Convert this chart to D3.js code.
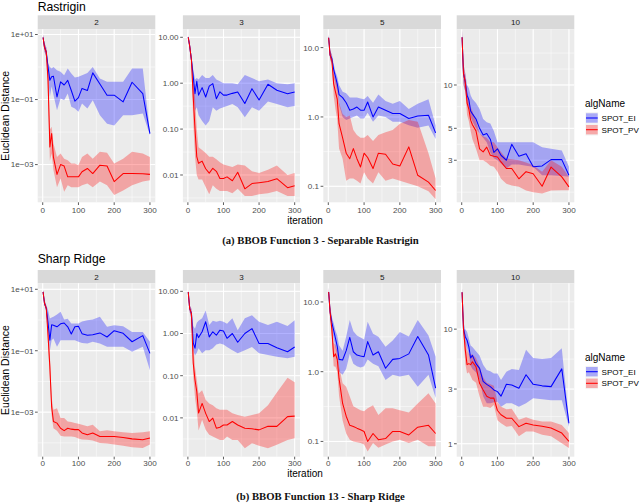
<!DOCTYPE html>
<html><head><meta charset="utf-8">
<script src="https://cdn.jsdelivr.net/npm/d3@7"></script>
<style>body{margin:0;background:#fff}svg{display:block}</style>
</head><body>
<svg id="c" width="640" height="503"></svg>
<script>
// ---------- DATA ----------
const iterations = [1, 5, 10, 15, 20, 25, 30, 40, 50, 60, 70, 80, 90, 100, 110, 125, 140, 160, 180, 200, 225, 250, 280, 300];
const dims = ["2", "3", "5", "10"];
const algNames = ["SPOT_EI", "SPOT_PV"];

// Rastrigin (BBOB f3)
const rast2_EI    = [8.1, 4.2, 2.9, 1.0, 0.39, 0.50, 0.52, 0.12, 0.35, 0.28, 0.39, 0.19, 0.089, 0.115, 0.22, 0.19, 0.66, 0.30, 0.136, 0.136, 0.085, 0.34, 0.153, 0.009];
const rast2_EI_lo = [6.5, 3.0, 2.0, 0.5, 0.12, 0.25, 0.14, 0.047, 0.107, 0.095, 0.153, 0.06, 0.053, 0.042, 0.076, 0.053, 0.095, 0.033, 0.018, 0.016, 0.033, 0.033, 0.037, 0.008];
const rast2_EI_hi = [10, 5.5, 4.0, 1.28, 1.0, 0.9, 1.0, 0.8, 0.71, 0.56, 0.9, 0.63, 0.475, 0.50, 0.56, 0.66, 1.0, 0.44, 0.35, 0.35, 0.35, 0.90, 0.90, 0.010];
const rast2_PV    = [8.1, 4.0, 2.9, 0.39, 0.0035, 0.009, 0.0017, 0.0005, 0.001, 0.0009, 0.00042, 0.00042, 0.00042, 0.00042, 0.0006, 0.00076, 0.00053, 0.00096, 0.00091, 0.0003, 0.00053, 0.00053, 0.00052, 0.0005];
const rast2_PV_lo = [6.5, 3.0, 2.0, 0.1, 0.0013, 0.0022, 0.00068, 0.0002, 0.00037, 0.000145, 0.00023, 0.0002, 0.0002, 0.0002, 0.00023, 0.00026, 0.0002, 0.0003, 0.00023, 0.000115, 0.00016, 0.00023, 0.0003, 0.00033];
const rast2_PV_hi = [10, 5.5, 4.0, 1.0, 0.012, 0.0145, 0.0045, 0.0017, 0.0022, 0.0015, 0.00135, 0.00107, 0.00107, 0.00096, 0.0017, 0.0022, 0.0015, 0.00246, 0.0023, 0.00107, 0.0015, 0.00246, 0.0022, 0.0017];

const rast3_EI    = [10, 6.5, 3.2, 1.4, 0.59, 1.1, 0.55, 0.8, 0.5, 0.86, 0.98, 0.46, 0.65, 0.55, 0.55, 0.6, 0.645, 0.36, 0.76, 0.43, 0.95, 0.7, 0.59, 0.645];
const rast3_EI_lo = [9, 5.5, 2.6, 0.6, 0.25, 0.3, 0.2, 0.15, 0.12, 0.15, 0.3, 0.25, 0.28, 0.3, 0.32, 0.35, 0.3, 0.18, 0.3, 0.25, 0.4, 0.35, 0.3, 0.32];
const rast3_EI_hi = [11, 7.5, 4.0, 2.0, 1.2, 1.3, 1.2, 1.5, 1.3, 1.3, 1.5, 1.2, 1.1, 1.0, 1.0, 1.0, 0.95, 1.5, 1.3, 1.1, 1.2, 1.0, 0.95, 1.0];
const rast3_PV    = [10, 6.5, 3.2, 0.5, 0.1, 0.025, 0.018, 0.02, 0.0137, 0.011, 0.014, 0.012, 0.0084, 0.0084, 0.0091, 0.0075, 0.0115, 0.005, 0.0065, 0.0068, 0.0072, 0.0083, 0.0053, 0.0058];
const rast3_PV_lo = [9, 5.5, 2.6, 0.15, 0.025, 0.01, 0.008, 0.008, 0.0055, 0.0038, 0.006, 0.005, 0.0045, 0.0045, 0.0045, 0.004, 0.005, 0.0035, 0.0035, 0.0038, 0.004, 0.0045, 0.0035, 0.0035];
const rast3_PV_hi = [11, 7.5, 4.0, 1.5, 0.5, 0.1, 0.04, 0.035, 0.03, 0.025, 0.025, 0.022, 0.019, 0.017, 0.016, 0.015, 0.017, 0.016, 0.012, 0.011, 0.013, 0.016, 0.01, 0.011];

const rast5_EI    = [13.9, 7.8, 6.9, 4.8, 3.8, 3.0, 2.1, 1.9, 1.6, 1.25, 1.3, 1.39, 1.25, 1.25, 1.64, 1.0, 1.39, 1.25, 1.12, 1.12, 0.95, 1.03, 1.06, 0.59];
const rast5_EI_lo = [12.5, 6.8, 6.0, 4.0, 3.0, 2.4, 1.5, 1.0, 0.9, 0.95, 1.0, 1.05, 0.95, 0.95, 1.15, 0.85, 1.05, 1.0, 0.85, 0.85, 0.76, 0.7, 0.75, 0.48];
const rast5_EI_hi = [15.5, 9.0, 8.0, 5.8, 4.5, 3.8, 2.9, 2.3, 2.2, 1.9, 1.9, 1.9, 1.85, 1.8, 2.0, 1.6, 2.1, 1.7, 1.55, 1.7, 1.3, 1.55, 1.8, 0.75];
const rast5_PV    = [13.9, 7.8, 6.5, 3.0, 2.3, 1.8, 0.8, 0.5, 0.3, 0.25, 0.35, 0.25, 0.19, 0.3, 0.26, 0.18, 0.3, 0.29, 0.21, 0.196, 0.37, 0.144, 0.115, 0.087];
const rast5_PV_lo = [12.5, 6.8, 5.5, 2.0, 1.3, 0.9, 0.35, 0.25, 0.12, 0.13, 0.13, 0.12, 0.11, 0.16, 0.13, 0.11, 0.16, 0.12, 0.13, 0.12, 0.11, 0.1, 0.085, 0.065];
const rast5_PV_hi = [15.5, 9.0, 7.8, 4.2, 3.5, 3.0, 1.6, 1.1, 1.0, 1.05, 0.65, 0.55, 0.5, 0.5, 0.55, 0.45, 0.55, 0.6, 0.65, 0.8, 0.9, 0.85, 0.3, 0.13];

const rast10_EI    = [21.5, 12, 10.5, 8.5, 7.9, 6.6, 6.3, 5.8, 5.0, 4.5, 4.6, 4.2, 3.4, 3.6, 3.25, 3.0, 3.87, 3.2, 3.33, 2.7, 2.74, 3.03, 3.03, 2.36];
const rast10_EI_lo = [19, 10, 9, 7.5, 7.0, 6.0, 5.6, 5.0, 4.6, 4.3, 4.0, 3.4, 3.1, 3.0, 2.85, 2.63, 2.8, 2.8, 2.75, 2.7, 2.36, 2.36, 2.33, 2.3];
const rast10_EI_hi = [24, 14, 12, 10, 9.5, 8.5, 8.0, 7.5, 6.8, 5.8, 5.5, 5.4, 4.8, 4.0, 4.0, 4.0, 4.0, 4.0, 4.0, 4.0, 3.7, 3.6, 3.5, 2.7];
const rast10_PV    = [21.5, 12, 10.5, 7.5, 6.8, 5.7, 5.3, 4.8, 3.6, 3.43, 3.7, 3.25, 3.2, 3.16, 2.92, 2.63, 2.63, 2.23, 2.5, 2.42, 1.98, 2.69, 2.3, 1.96];
const rast10_PV_lo = [19, 10, 9, 6.2, 5.6, 4.8, 4.2, 3.6, 3.0, 3.0, 2.9, 2.75, 2.7, 2.5, 2.23, 2.06, 2.0, 1.96, 1.85, 1.8, 1.76, 1.85, 1.86, 1.86];
const rast10_PV_hi = [24, 14, 12, 8.8, 8.0, 7.0, 6.6, 5.6, 4.6, 4.4, 4.3, 4.0, 4.0, 3.7, 3.43, 3.08, 3.05, 3.0, 2.9, 2.77, 2.5, 3.0, 2.7, 2.3];

// Sharp Ridge (BBOB f13)
const sharp2_EI    = [8.2, 3.5, 2.4, 0.8, 0.22, 0.7, 0.68, 0.6, 0.75, 0.8, 0.6, 0.35, 0.6, 0.63, 0.36, 0.32, 0.33, 0.38, 0.28, 0.45, 0.37, 0.196, 0.31, 0.082];
const sharp2_EI_lo = [7, 3.0, 2.0, 0.55, 0.1, 0.22, 0.25, 0.134, 0.22, 0.22, 0.22, 0.22, 0.22, 0.196, 0.18, 0.173, 0.196, 0.173, 0.134, 0.134, 0.134, 0.093, 0.134, 0.023];
const sharp2_EI_hi = [9.5, 4.5, 3.0, 2.1, 1.12, 1.2, 1.27, 1.5, 1.84, 1.04, 1.1, 0.77, 0.77, 0.77, 0.9, 0.99, 1.04, 1.27, 0.6, 0.68, 0.63, 0.41, 0.41, 0.196];
const sharp2_PV    = [8.2, 3.5, 2.4, 0.3, 0.03, 0.0015, 0.0005, 0.00044, 0.0003, 0.00025, 0.0003, 0.00028, 0.00027, 0.00027, 0.00021, 0.000184, 0.00021, 0.000162, 0.000162, 0.000162, 0.00015, 0.000135, 0.000127, 0.000144];
const sharp2_PV_lo = [7, 3.0, 2.0, 0.15, 0.012, 0.0008, 0.0003, 0.00025, 0.00017, 0.000162, 0.00016, 0.00016, 0.000155, 0.00014, 0.00013, 0.000127, 0.00012, 0.0001, 0.000095, 0.000088, 0.00008, 0.000072, 0.000068, 0.000088];
const sharp2_PV_hi = [9.5, 4.5, 3.0, 0.7, 0.08, 0.003, 0.0012, 0.00135, 0.00065, 0.00065, 0.0005, 0.00048, 0.00044, 0.00042, 0.00039, 0.00035, 0.00039, 0.00024, 0.00026, 0.00024, 0.00022, 0.00021, 0.00022, 0.00024];

const sharp3_EI    = [9.6, 3.9, 3.0, 0.6, 0.45, 1.0, 0.8, 1.1, 1.9, 0.83, 1.1, 0.91, 1.2, 1.15, 0.77, 1.0, 0.62, 1.0, 1.31, 0.58, 0.58, 0.46, 0.37, 0.48];
const sharp3_EI_lo = [8.5, 3.2, 2.2, 0.4, 0.3, 0.35, 0.45, 0.34, 0.4, 0.4, 0.45, 0.55, 0.58, 0.55, 0.48, 0.4, 0.34, 0.4, 0.48, 0.34, 0.31, 0.28, 0.26, 0.28];
const sharp3_EI_hi = [11, 4.8, 3.8, 1.5, 1.3, 1.8, 2.0, 2.3, 3.5, 1.6, 2.0, 1.9, 2.0, 1.9, 1.7, 2.3, 1.2, 2.3, 2.7, 1.9, 1.6, 1.9, 1.5, 2.05];
const sharp3_PV    = [9.6, 3.9, 3.0, 0.2, 0.079, 0.042, 0.013, 0.022, 0.0128, 0.0082, 0.0099, 0.0057, 0.006, 0.0068, 0.0068, 0.0082, 0.0068, 0.0057, 0.0055, 0.0052, 0.0063, 0.0063, 0.0107, 0.011];
const sharp3_PV_lo = [8.5, 3.2, 2.2, 0.1, 0.03, 0.015, 0.005, 0.009, 0.0052, 0.004, 0.0036, 0.0033, 0.003, 0.003, 0.0036, 0.003, 0.003, 0.0019, 0.0025, 0.0022, 0.0019, 0.0023, 0.003, 0.0033];
const sharp3_PV_hi = [11, 4.8, 3.8, 0.6, 0.16, 0.08, 0.038, 0.045, 0.027, 0.022, 0.02, 0.017, 0.0155, 0.0155, 0.0155, 0.0128, 0.0117, 0.0107, 0.0117, 0.0128, 0.02, 0.04, 0.09, 0.07];

const sharp5_EI    = [13.9, 7.2, 5.0, 3.9, 3.0, 2.3, 1.5, 1.47, 2.0, 3.1, 1.93, 1.73, 1.68, 1.64, 2.7, 1.73, 1.93, 1.12, 1.5, 1.55, 1.8, 3.2, 1.74, 0.58];
const sharp5_EI_lo = [12, 6.0, 4.2, 3.0, 2.2, 1.7, 1.0, 0.9, 1.1, 1.8, 1.3, 1.2, 1.15, 1.2, 1.5, 1.3, 1.2, 0.76, 0.9, 0.85, 0.9, 0.61, 0.9, 0.42];
const sharp5_EI_hi = [16, 8.5, 6.0, 5.0, 3.9, 3.3, 2.4, 2.0, 3.2, 5.5, 3.8, 3.3, 3.1, 2.9, 5.2, 3.5, 3.16, 2.28, 2.8, 3.7, 3.2, 5.5, 3.3, 1.64];
const sharp5_PV    = [13.9, 7.2, 4.0, 1.64, 1.8, 1.5, 0.8, 0.35, 0.23, 0.17, 0.164, 0.155, 0.147, 0.139, 0.1, 0.13, 0.106, 0.11, 0.139, 0.139, 0.124, 0.16, 0.17, 0.13];
const sharp5_PV_lo = [12, 6.0, 3.0, 1.2, 1.18, 1.0, 0.45, 0.2, 0.13, 0.106, 0.1, 0.097, 0.095, 0.09, 0.072, 0.095, 0.081, 0.09, 0.1, 0.106, 0.095, 0.106, 0.085, 0.085];
const sharp5_PV_hi = [16, 8.5, 6.0, 2.6, 2.4, 2.0, 1.2, 0.68, 0.61, 0.44, 0.32, 0.3, 0.28, 0.27, 0.3, 0.33, 0.24, 0.3, 0.3, 0.28, 0.26, 0.35, 0.49, 0.35];

const sharp10_EI    = [21, 10.1, 8.6, 8.0, 7.0, 5.6, 5.9, 5.0, 4.55, 3.5, 3.3, 3.15, 2.95, 2.85, 2.6, 3.3, 3.26, 3.05, 4.0, 3.3, 3.2, 3.15, 4.5, 1.51];
const sharp10_EI_lo = [19, 9.0, 7.5, 6.8, 6.0, 4.8, 4.5, 4.2, 3.6, 2.6, 2.26, 2.26, 2.3, 2.33, 2.1, 2.26, 2.26, 2.1, 2.26, 2.5, 2.45, 2.4, 2.4, 1.41];
const sharp10_EI_hi = [23, 11.5, 10, 9.5, 8.3, 7.2, 7.0, 6.4, 5.9, 4.9, 4.4, 4.3, 4.1, 4.1, 3.6, 4.25, 4.5, 4.4, 6.6, 5.6, 5.5, 5.6, 6.8, 1.6];
const sharp10_PV    = [21, 10.1, 6.6, 4.9, 5.0, 4.9, 5.2, 4.7, 3.37, 2.95, 2.6, 2.5, 2.5, 1.95, 1.79, 1.67, 1.67, 1.41, 1.51, 1.46, 1.42, 1.37, 1.24, 1.05];
const sharp10_PV_lo = [19, 9.0, 5.0, 4.1, 4.2, 3.9, 3.6, 3.4, 2.58, 2.1, 2.1, 2.05, 2.18, 1.6, 1.51, 1.41, 1.43, 1.16, 1.28, 1.28, 1.2, 1.16, 1.01, 0.92];
const sharp10_PV_hi = [23, 11.5, 8.0, 6.6, 6.1, 6.0, 6.0, 5.6, 4.7, 3.8, 3.4, 3.3, 3.2, 2.3, 2.1, 2.0, 2.02, 1.62, 1.7, 1.62, 1.56, 1.56, 1.46, 1.24];

// Axis tick values / labels
const xTicks = [0, 100, 200, 300];
const sciTicks = [10, 0.1, 0.001], sciLabels = ["1e+01", "1e\u221201", "1e\u221203"];
const dec2Ticks = [10, 1, 0.1, 0.01], dec2Labels = ["10.00", "1.00", "0.10", "0.01"];
const dec1Ticks = [10, 1, 0.1], dec1Labels = ["10.0", "1.0", "0.1"];
const rastD10Ticks = [10, 5, 3], rastD10Labels = ["10", "5", "3"];
const sharpD10Ticks = [10, 3, 1], sharpD10Labels = ["10", "3", "1"];
// y-axis limits (log10) of each facet
const rastYLim = [[-4.16, 1.16], [-2.595, 1.174], [-1.231, 1.264], [0.185, 1.387]];
const sharpYLim = [[-4.45, 1.195], [-2.92, 1.19], [-1.219, 1.267], [-0.113, 1.4]];

const figures = [
  { title: "Rastrigin", caption: "(a) BBOB Function 3 - Separable Rastrigin",
    panels: [
      { lim: rastYLim[0], ticks: sciTicks, labels: sciLabels, EI: [rast2_EI, rast2_EI_lo, rast2_EI_hi], PV: [rast2_PV, rast2_PV_lo, rast2_PV_hi] },
      { lim: rastYLim[1], ticks: dec2Ticks, labels: dec2Labels, EI: [rast3_EI, rast3_EI_lo, rast3_EI_hi], PV: [rast3_PV, rast3_PV_lo, rast3_PV_hi] },
      { lim: rastYLim[2], ticks: dec1Ticks, labels: dec1Labels, EI: [rast5_EI, rast5_EI_lo, rast5_EI_hi], PV: [rast5_PV, rast5_PV_lo, rast5_PV_hi] },
      { lim: rastYLim[3], ticks: rastD10Ticks, labels: rastD10Labels, EI: [rast10_EI, rast10_EI_lo, rast10_EI_hi], PV: [rast10_PV, rast10_PV_lo, rast10_PV_hi] }
    ] },
  { title: "Sharp Ridge", caption: "(b) BBOB Function 13 - Sharp Ridge",
    panels: [
      { lim: sharpYLim[0], ticks: sciTicks, labels: sciLabels, EI: [sharp2_EI, sharp2_EI_lo, sharp2_EI_hi], PV: [sharp2_PV, sharp2_PV_lo, sharp2_PV_hi] },
      { lim: sharpYLim[1], ticks: dec2Ticks, labels: dec2Labels, EI: [sharp3_EI, sharp3_EI_lo, sharp3_EI_hi], PV: [sharp3_PV, sharp3_PV_lo, sharp3_PV_hi] },
      { lim: sharpYLim[2], ticks: dec1Ticks, labels: dec1Labels, EI: [sharp5_EI, sharp5_EI_lo, sharp5_EI_hi], PV: [sharp5_PV, sharp5_PV_lo, sharp5_PV_hi] },
      { lim: sharpYLim[3], ticks: sharpD10Ticks, labels: sharpD10Labels, EI: [sharp10_EI, sharp10_EI_lo, sharp10_EI_hi], PV: [sharp10_PV, sharp10_PV_lo, sharp10_PV_hi] }
    ] }
];

// ---------- LAYOUT ----------
const svg = d3.select("#c");
const sans = "'Liberation Sans', Arial, Helvetica, sans-serif";
const serif = "'Liberation Serif', 'Times New Roman', 'DejaVu Serif', serif";
const colX = [[37.7, 155.3], [182.9, 300], [323.3, 441], [456.7, 574.3]];
const rowL = [
  { titleY: 10.5, stripTop: 15.3, top: 29.3, bottom: 202.3, xlabY: 213, xtitleY: 223.5, capY: 244, legTitleY: 106.5, legKeys: [118, 129.7], ytitleY: 115.8 },
  { titleY: 262.5, stripTop: 270, top: 283.3, bottom: 456.7, xlabY: 466.3, xtitleY: 477, capY: 500, legTitleY: 360.5, legKeys: [371.7, 383.3], ytitleY: 370 }
];
const colors = { SPOT_EI: "#0000ff", SPOT_PV: "#ff0000" };
const xDomain = [-14, 315];
const axisFont = 8.1;

function minorBreaks(majors, lim) {
  const b = majors.slice().sort((a, c) => a - c);
  const bd = b[1] - b[0];
  if (lim[0] < b[0]) b.unshift(b[0] - bd);
  if (lim[1] > b[b.length - 1]) b.push(b[b.length - 1] + bd);
  const out = [];
  for (let i = 0; i < b.length - 1; i++) out.push(b[i], (b[i] + b[i + 1]) / 2);
  out.push(b[b.length - 1]);
  return out.filter(v => v >= lim[0] && v <= lim[1]);
}

const defs = svg.append("defs");

figures.forEach((fig, r) => {
  const L = rowL[r];
  svg.append("text").attr("x", colX[0][0]).attr("y", L.titleY)
    .attr("font-family", sans).attr("font-size", 12.2).attr("fill", "#000").text(fig.title);

  fig.panels.forEach((p, c) => {
    const [x0, x1] = colX[c];
    const x = d3.scaleLinear().domain(xDomain).range([x0, x1]);
    const y = d3.scaleLog().domain([Math.pow(10, p.lim[0]), Math.pow(10, p.lim[1])]).range([L.bottom, L.top]);
    const g = svg.append("g");
    // strip
    g.append("rect").attr("x", x0).attr("y", L.stripTop).attr("width", x1 - x0).attr("height", L.top - L.stripTop).attr("fill", "#d9d9d9");
    g.append("text").attr("x", (x0 + x1) / 2).attr("y", (L.stripTop + L.top) / 2 + 2.9)
      .attr("text-anchor", "middle").attr("font-family", sans).attr("font-size", axisFont).attr("fill", "#1a1a1a").text(dims[c]);
    // panel bg
    g.append("rect").attr("x", x0).attr("y", L.top).attr("width", x1 - x0).attr("height", L.bottom - L.top).attr("fill", "#ebebeb");
    // minor grid
    const logTicks = p.ticks.map(v => Math.log10(v));
    minorBreaks(logTicks, p.lim).forEach(v => {
      const yy = y(Math.pow(10, v));
      g.append("line").attr("x1", x0).attr("x2", x1).attr("y1", yy).attr("y2", yy).attr("stroke", "#fff").attr("stroke-width", 0.5);
    });
    minorBreaks(xTicks, xDomain).forEach(v => {
      g.append("line").attr("x1", x(v)).attr("x2", x(v)).attr("y1", L.top).attr("y2", L.bottom).attr("stroke", "#fff").attr("stroke-width", 0.5);
    });
    // major grid
    p.ticks.forEach(v => {
      g.append("line").attr("x1", x0).attr("x2", x1).attr("y1", y(v)).attr("y2", y(v)).attr("stroke", "#fff").attr("stroke-width", 1);
    });
    xTicks.forEach(v => {
      g.append("line").attr("x1", x(v)).attr("x2", x(v)).attr("y1", L.top).attr("y2", L.bottom).attr("stroke", "#fff").attr("stroke-width", 1);
    });
    // clip
    const cid = "clip" + r + c;
    defs.append("clipPath").attr("id", cid).append("rect").attr("x", x0).attr("y", L.top).attr("width", x1 - x0).attr("height", L.bottom - L.top);
    const pg = g.append("g").attr("clip-path", `url(#${cid})`);
    const area = arr => d3.area().x((d, i) => x(iterations[i])).y0((d, i) => y(arr[1][i])).y1((d, i) => y(arr[2][i]))(arr[0]);
    const line = d3.line().x((d, i) => x(iterations[i])).y(d => y(d));
    [["SPOT_EI", p.EI], ["SPOT_PV", p.PV]].forEach(([n, arr]) => {
      pg.append("path").attr("d", area(arr)).attr("fill", colors[n]).attr("fill-opacity", 0.3);
    });
    [["SPOT_EI", p.EI], ["SPOT_PV", p.PV]].forEach(([n, arr]) => {
      pg.append("path").attr("d", line(arr[0])).attr("fill", "none").attr("stroke", colors[n]).attr("stroke-width", 1.05).attr("stroke-linejoin", "round");
    });
    // y axis
    p.ticks.forEach((v, i) => {
      g.append("line").attr("x1", x0 - 2.7).attr("x2", x0).attr("y1", y(v)).attr("y2", y(v)).attr("stroke", "#333").attr("stroke-width", 0.8);
      g.append("text").attr("x", x0 - 4.3).attr("y", y(v) + 2.9).attr("text-anchor", "end")
        .attr("font-family", sans).attr("font-size", axisFont).attr("fill", "#4d4d4d").text(p.labels[i]);
    });
    // x axis
    xTicks.forEach(v => {
      g.append("line").attr("x1", x(v)).attr("x2", x(v)).attr("y1", L.bottom).attr("y2", L.bottom + 2.7).attr("stroke", "#333").attr("stroke-width", 0.8);
      g.append("text").attr("x", x(v)).attr("y", L.xlabY).attr("text-anchor", "middle")
        .attr("font-family", sans).attr("font-size", axisFont).attr("fill", "#4d4d4d").text(v);
    });
  });

  // axis titles
  svg.append("text").attr("x", 305).attr("y", L.xtitleY).attr("text-anchor", "middle")
    .attr("font-family", sans).attr("font-size", 10).attr("fill", "#000").text("iteration");
  svg.append("text").attr("transform", `translate(9.2,${L.ytitleY}) rotate(-90)`).attr("text-anchor", "middle")
    .attr("font-family", sans).attr("font-size", 10.5).attr("fill", "#000").text("Euclidean Distance");

  // legend
  svg.append("text").attr("x", 585).attr("y", L.legTitleY).attr("font-family", sans).attr("font-size", 10).attr("fill", "#000").text("algName");
  algNames.forEach((n, k) => {
    const cy = L.legKeys[k];
    svg.append("rect").attr("x", 585.5).attr("y", cy - 5.8).attr("width", 12.6).attr("height", 11.6).attr("fill", "#f2f2f2");
    svg.append("rect").attr("x", 586).attr("y", cy - 4.7).attr("width", 11.7).attr("height", 9.4).attr("fill", colors[n]).attr("fill-opacity", 0.3);
    svg.append("line").attr("x1", 586).attr("x2", 597.7).attr("y1", cy).attr("y2", cy).attr("stroke", colors[n]).attr("stroke-width", 1.05);
    svg.append("text").attr("x", 601.5).attr("y", cy + 2.9).attr("font-family", sans).attr("font-size", axisFont).attr("fill", "#000").text(n);
  });

  // caption
  svg.append("text").attr("x", 320.5).attr("y", L.capY).attr("text-anchor", "middle")
    .attr("font-family", serif).attr("font-weight", "bold").attr("font-size", 10.7).attr("fill", "#111").text(fig.caption);
});
</script>
</body></html>
